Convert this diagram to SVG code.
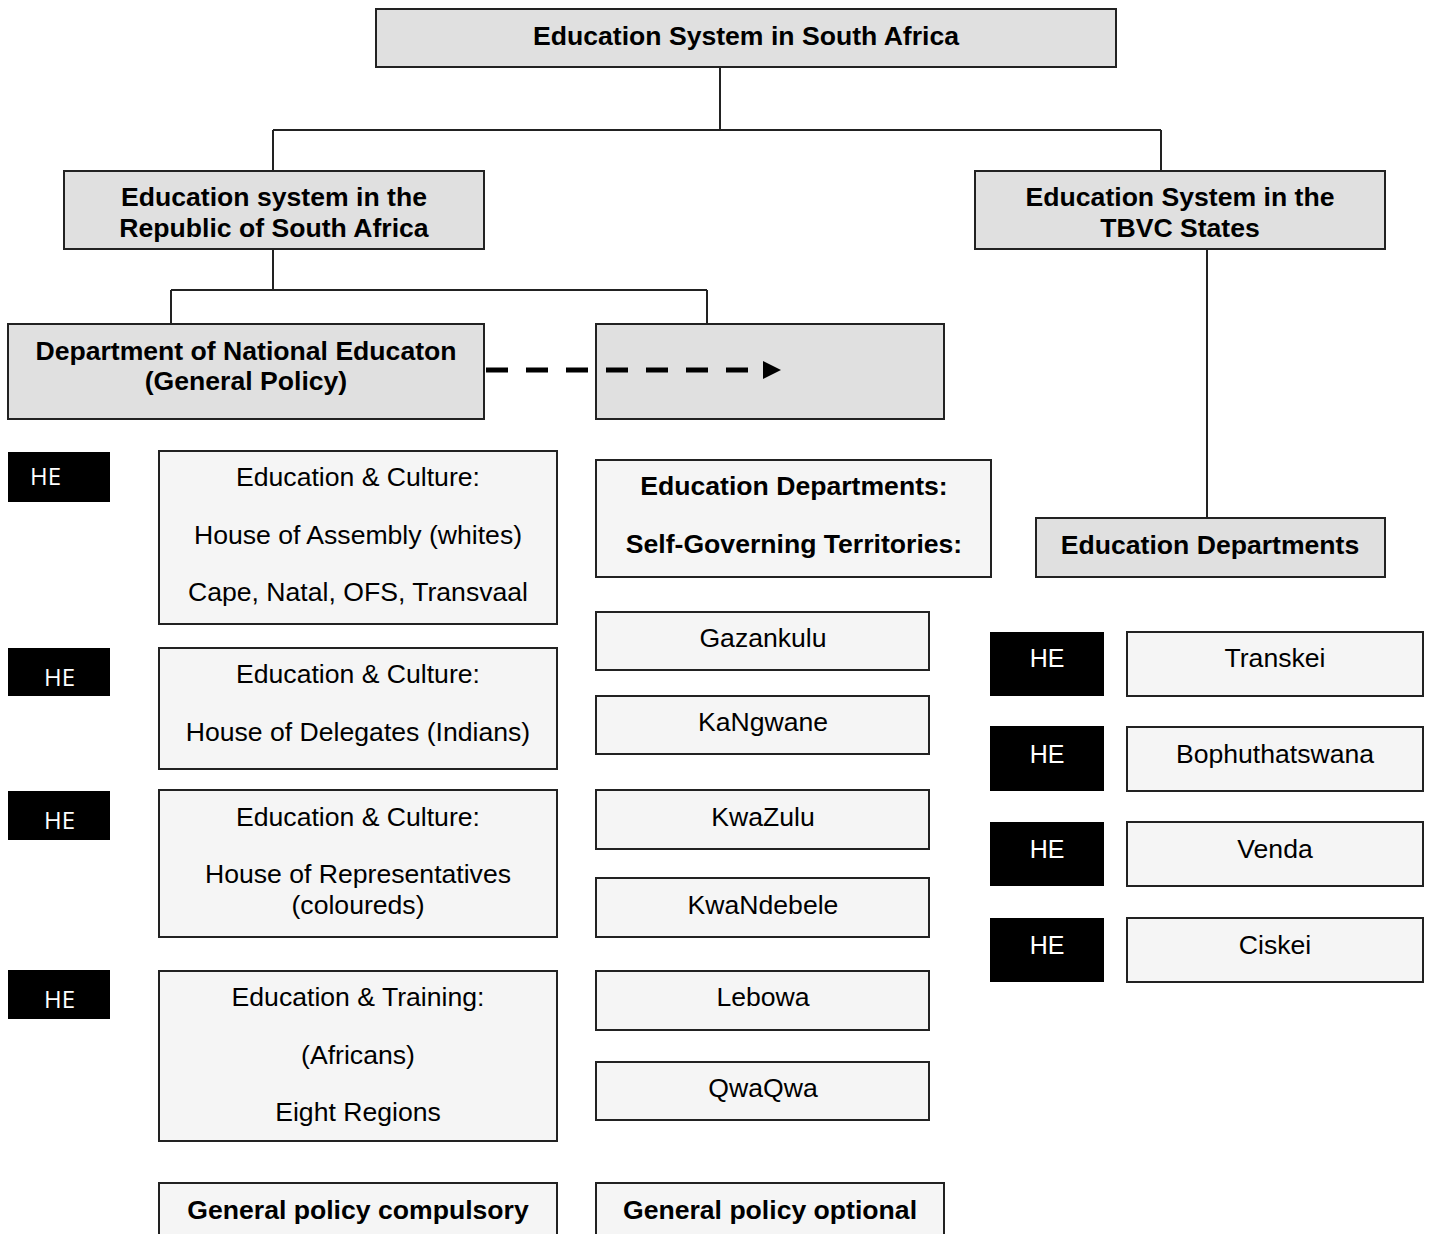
<svg xmlns="http://www.w3.org/2000/svg" width="1432" height="1234" viewBox="0 0 1432 1234">
<defs>
<style>
.g{fill:#e0e0e0;stroke:#222;stroke-width:2}
.l{fill:#f5f5f5;stroke:#222;stroke-width:2}
.k{fill:#000;stroke:none}
.b{font-family:"Liberation Sans",Arial,sans-serif;font-size:26.6px;font-weight:bold;fill:#000;text-anchor:middle}
.r{font-family:"Liberation Sans",Arial,sans-serif;font-size:26.6px;fill:#000;text-anchor:middle}
.h{font-family:"Open Sans","Liberation Sans",sans-serif;font-size:24px;fill:#fff}
.hr{font-family:"Liberation Sans",Arial,sans-serif;font-size:25px;fill:#fff;text-anchor:middle}
.c{fill:none;stroke:#222;stroke-width:2}
</style>
<marker id="ah" markerWidth="3.6" markerHeight="3.6" refX="0" refY="1.8" orient="auto" markerUnits="strokeWidth">
<path d="M0,0 L3.6,1.8 L0,3.6 Z" fill="#000"/>
</marker>
</defs>
<rect width="1432" height="1234" fill="#fff"/>
<g id="connectors">
<path class="c" d="M720,67 V130 M273,130 H1161 M273,130 V171 M1161,130 V171"/>
<path class="c" d="M273,249 V290 M171,290 H707 M171,290 V324 M707,290 V324"/>
<path class="c" d="M1207,249 V518"/>
</g>
<g id="top"><rect class="g" x="376" y="9" width="740" height="58"/><text class="b" x="746" y="45">Education System in South Africa</text></g>
<g id="rsa"><rect class="g" x="64" y="171" width="420" height="78"/><text class="b" x="274" y="206">Education system in the</text><text class="b" x="274" y="237">Republic of South Africa</text></g>
<g id="tbvc"><rect class="g" x="975" y="171" width="410" height="78"/><text class="b" x="1180" y="206">Education System in the</text><text class="b" x="1180" y="237">TBVC States</text></g>
<g id="dne"><rect class="g" x="8" y="324" width="476" height="95"/><text class="b" x="246" y="360">Department of National Educaton</text><text class="b" x="246" y="390">(General Policy)</text></g>
<g id="empty"><rect class="g" x="596" y="324" width="348" height="95"/></g>
<g id="arrow"><line x1="486" y1="370" x2="763" y2="370" stroke="#000" stroke-width="5" stroke-dasharray="22 18" marker-end="url(#ah)"/></g>
<g id="edright"><rect class="g" x="1036" y="518" width="349" height="59"/><text class="b" x="1210" y="554">Education Departments</text></g>

<g id="he1"><rect class="k" x="8" y="452" width="102" height="50"/><text class="h" x="30" y="485">HE</text></g>
<g id="he2"><rect class="k" x="8" y="648" width="102" height="48"/><text class="h" x="44" y="686">HE</text></g>
<g id="he3"><rect class="k" x="8" y="791" width="102" height="49"/><text class="h" x="44" y="829">HE</text></g>
<g id="he4"><rect class="k" x="8" y="970" width="102" height="49"/><text class="h" x="44" y="1008">HE</text></g>

<g id="box1"><rect class="l" x="159" y="451" width="398" height="173"/><text class="r" x="358" y="486">Education &amp; Culture:</text><text class="r" x="358" y="544">House of Assembly (whites)</text><text class="r" x="358" y="601">Cape, Natal, OFS, Transvaal</text></g>
<g id="box2"><rect class="l" x="159" y="648" width="398" height="121"/><text class="r" x="358" y="683">Education &amp; Culture:</text><text class="r" x="358" y="741">House of Delegates (Indians)</text></g>
<g id="box3"><rect class="l" x="159" y="790" width="398" height="147"/><text class="r" x="358" y="826">Education &amp; Culture:</text><text class="r" x="358" y="883">House of Representatives</text><text class="r" x="358" y="914">(coloureds)</text></g>
<g id="box4"><rect class="l" x="159" y="971" width="398" height="170"/><text class="r" x="358" y="1006">Education &amp; Training:</text><text class="r" x="358" y="1064">(Africans)</text><text class="r" x="358" y="1121">Eight Regions</text></g>
<g id="gpc"><rect class="l" x="159" y="1183" width="398" height="60"/><text class="b" x="358" y="1219">General policy compulsory</text></g>

<g id="sgt"><rect class="l" x="596" y="460" width="395" height="117"/><text class="b" x="794" y="495">Education Departments:</text><text class="b" x="794" y="553">Self-Governing Territories:</text></g>
<g id="gaz"><rect class="l" x="596" y="612" width="333" height="58"/><text class="r" x="763" y="647">Gazankulu</text></g>
<g id="kan"><rect class="l" x="596" y="696" width="333" height="58"/><text class="r" x="763" y="731">KaNgwane</text></g>
<g id="kwz"><rect class="l" x="596" y="790" width="333" height="59"/><text class="r" x="763" y="826">KwaZulu</text></g>
<g id="kwn"><rect class="l" x="596" y="878" width="333" height="59"/><text class="r" x="763" y="914">KwaNdebele</text></g>
<g id="leb"><rect class="l" x="596" y="971" width="333" height="59"/><text class="r" x="763" y="1006">Lebowa</text></g>
<g id="qwa"><rect class="l" x="596" y="1062" width="333" height="58"/><text class="r" x="763" y="1097">QwaQwa</text></g>
<g id="gpo"><rect class="l" x="596" y="1183" width="348" height="60"/><text class="b" x="770" y="1219">General policy optional</text></g>

<g id="rhe1"><rect class="k" x="990" y="632" width="114" height="64"/><text class="hr" x="1047" y="667">HE</text></g>
<g id="rhe2"><rect class="k" x="990" y="726" width="114" height="65"/><text class="hr" x="1047" y="763">HE</text></g>
<g id="rhe3"><rect class="k" x="990" y="822" width="114" height="64"/><text class="hr" x="1047" y="858">HE</text></g>
<g id="rhe4"><rect class="k" x="990" y="918" width="114" height="64"/><text class="hr" x="1047" y="954">HE</text></g>
<g id="tra"><rect class="l" x="1127" y="632" width="296" height="64"/><text class="r" x="1275" y="667">Transkei</text></g>
<g id="bop"><rect class="l" x="1127" y="727" width="296" height="64"/><text class="r" x="1275" y="763">Bophuthatswana</text></g>
<g id="ven"><rect class="l" x="1127" y="822" width="296" height="64"/><text class="r" x="1275" y="858">Venda</text></g>
<g id="cis"><rect class="l" x="1127" y="918" width="296" height="64"/><text class="r" x="1275" y="954">Ciskei</text></g>
</svg>
